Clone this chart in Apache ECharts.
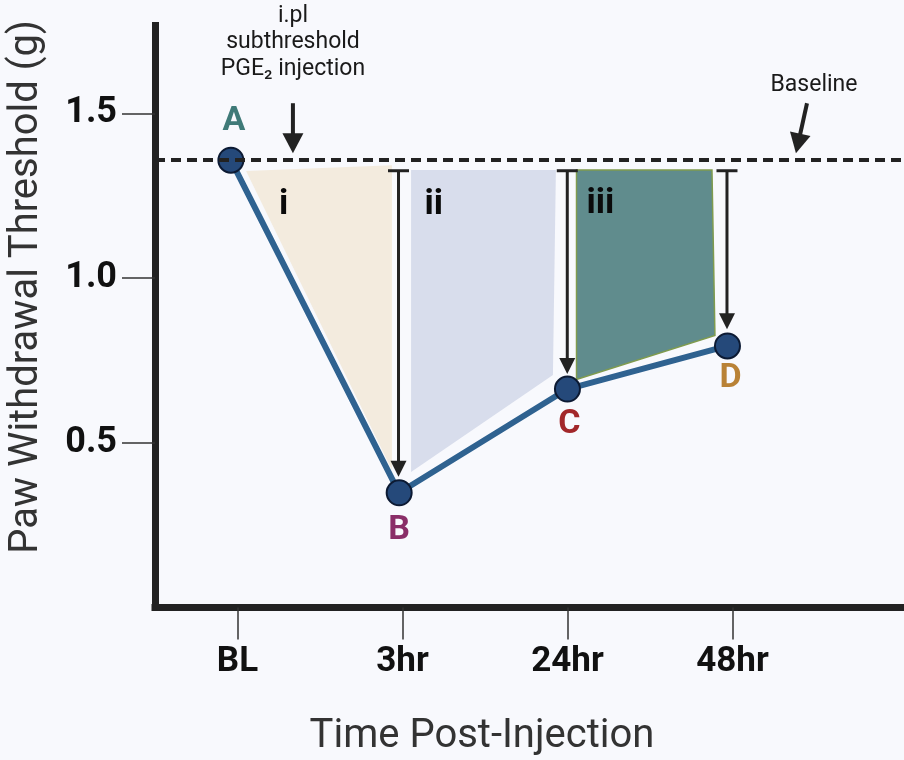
<!DOCTYPE html>
<html><head><meta charset="utf-8">
<script src="https://cdn.jsdelivr.net/npm/echarts@6/dist/echarts.min.js"></script>
<style>html,body{margin:0;padding:0;background:#f8f9fd}#c{width:904px;height:760px}</style>
</head><body><div id="c"></div>
<script>
// ---- data ----
const categories = ['BL', '3hr', '24hr', '48hr'];
const tickPositions = [0, 1, 2, 3];
const yTickValues = [0.5, 1.0, 1.5];
const pointX = [-0.04, 0.98, 2.0, 2.97];
const threshold = [1.358, 0.348, 0.663, 0.794];
const pointLabels = ['A', 'B', 'C', 'D'];
const baseline = 1.358;
const regionNames = ['i', 'ii', 'iii'];
const regionI = [[0.052, 1.325], [0.936, 1.343], [0.936, 0.417]];
const regionII = [[1.052, 1.328], [1.930, 1.328], [1.912, 0.706], [1.052, 0.411]];
const regionIII = [[2.055, 1.328], [2.876, 1.328], [2.894, 0.826], [2.055, 0.692]];
const regionLabelX = [0.28, 1.19, 2.2];
const regionLabelY = [1.22, 1.22, 1.225];
const dropArrowX = [0.976, 1.999, 2.967];
const dropArrowTop = 1.326;
const dropArrowTip = [0.397, 0.709, 0.845];
const noteArrowFrom = [[0.336, 1.531], [3.452, 1.531]];
const noteArrowTo = [[0.336, 1.379], [3.385, 1.379]];
const noteText = 'i.pl\nsubthreshold\nPGE\u2082 injection';
const baselineText = 'Baseline';
const yTitle = 'Paw Withdrawal Threshold (g)';
const xTitle = 'Time Post-Injection';

// ---- styles ----
const regions = [regionI, regionII, regionIII];
const regionFill = ['#f3ebde', '#d8ddec', '#608c8d'];
const regionStroke = [null, null, '#7f9b4e'];
const labelColors = ['#3f7a78', '#8a2e68', '#a2272a', '#b98236'];
const labelOffsets = [[3, -39], [0, 38], [2, 35], [3, 33]];
const FONT = 'Roboto, "Noto Sans", sans-serif';

function arrowShape(p1, p2, headLen, headW, shaftW, color) {
  const dx = p2[0] - p1[0], dy = p2[1] - p1[1];
  const L = Math.sqrt(dx * dx + dy * dy) || 1;
  const ux = dx / L, uy = dy / L, px = -uy, py = ux;
  const bx = p2[0] - ux * headLen, by = p2[1] - uy * headLen;
  return [
    { type: 'line', shape: { x1: p1[0], y1: p1[1], x2: bx + ux * 2, y2: by + uy * 2 },
      style: { stroke: color, lineWidth: shaftW } },
    { type: 'polygon', shape: { points: [[p2[0], p2[1]], [bx + px * headW / 2, by + py * headW / 2], [bx - px * headW / 2, by - py * headW / 2]] },
      style: { fill: color } }
  ];
}

const chart = echarts.init(document.getElementById('c'), null, { renderer: 'canvas' });
chart.setOption({
  backgroundColor: '#f8f9fd',
  animation: false,
  textStyle: { fontFamily: FONT },
  grid: { left: 155, right: 0, top: 25.5, bottom: 152.6 },
  xAxis: {
    type: 'value', min: -0.5, max: 4.04,
    splitLine: { show: false },
    axisLine: { onZero: false, lineStyle: { color: '#222', width: 7, cap: 'square' } },
    axisTick: { show: true, customValues: tickPositions, length: 32, lineStyle: { color: '#333', width: 1.5 } },
    axisLabel: { customValues: tickPositions, formatter: v => categories[Math.round(v)],
      margin: 37, fontSize: 35, fontWeight: 'bold', color: '#111', fontFamily: FONT }
  },
  yAxis: {
    type: 'value', min: 0, max: 1.767,
    splitLine: { show: false },
    axisLine: { show: true, onZero: false, lineStyle: { color: '#222', width: 7, cap: 'square' } },
    axisTick: { show: true, customValues: yTickValues, length: 33, lineStyle: { color: '#333', width: 1.5 } },
    axisLabel: { customValues: yTickValues, formatter: v => v.toFixed(1),
      margin: 38, fontSize: 36, fontWeight: 'bold', color: '#111', fontFamily: FONT }
  },
  graphic: [
    { type: 'text', x: 27, y: 287, rotation: Math.PI / 2,
      style: { text: yTitle, font: '40px ' + FONT, fill: '#333', align: 'center', verticalAlign: 'middle' } },
    { type: 'text', x: 482, y: 737,
      style: { text: xTitle, font: '40px ' + FONT, fill: '#333', align: 'center', verticalAlign: 'middle' } },
    { type: 'text', x: 293, y: 42.5,
      style: { text: noteText, font: '23px ' + FONT, fill: '#1a1a1a', align: 'center', verticalAlign: 'middle', lineHeight: 26.5 } },
    { type: 'text', x: 814, y: 85,
      style: { text: baselineText, font: '23px ' + FONT, fill: '#1a1a1a', align: 'center', verticalAlign: 'middle' } }
  ],
  series: [
    {
      name: 'regions', type: 'custom', z: 1, silent: true,
      data: regions.map((r, i) => [r[0][0], r[0][1], i]),
      renderItem: (params, api) => {
        const i = params.dataIndex;
        const pts = regions[i].map(p => api.coord(p));
        return { type: 'polygon', shape: { points: pts },
          style: { fill: regionFill[i], stroke: regionStroke[i] || null, lineWidth: regionStroke[i] ? 1.5 : 0 } };
      }
    },
    {
      name: 'regionLabels', type: 'scatter', z: 2, silent: true, symbolSize: 0,
      itemStyle: { opacity: 1 },
      data: regionLabelX.map((x, i) => [x, regionLabelY[i]]),
      label: { show: true, position: 'inside', formatter: p => regionNames[p.dataIndex],
        fontSize: 35, fontWeight: 'bold', color: '#0a0a0a', opacity: 1, textBorderWidth: 0, fontFamily: FONT }
    },
    {
      name: 'dropArrows', type: 'custom', z: 3, silent: true,
      data: dropArrowX.map((x, i) => [x, dropArrowTop, dropArrowTip[i]]),
      renderItem: (params, api) => {
        const top = api.coord([api.value(0), api.value(1)]);
        const tip = api.coord([api.value(0), api.value(2)]);
        const kids = arrowShape(top, tip, 16, 16, 3, '#222');
        kids.push({ type: 'line', shape: { x1: top[0] - 10.5, y1: top[1], x2: top[0] + 10.5, y2: top[1] },
          style: { stroke: '#222', lineWidth: 3 } });
        return { type: 'group', children: kids };
      }
    },
    {
      name: 'noteArrows', type: 'custom', z: 3, silent: true,
      data: noteArrowFrom.map((p, i) => [p[0], p[1], noteArrowTo[i][0], noteArrowTo[i][1]]),
      renderItem: (params, api) => {
        const a = api.coord([api.value(0), api.value(1)]);
        const b = api.coord([api.value(2), api.value(3)]);
        return { type: 'group', children: arrowShape(a, b, 20, 21, 4, '#222') };
      }
    },
    {
      name: 'threshold', type: 'line', z: 4,
      data: pointX.map((x, i) => ({ value: [x, threshold[i]],
        label: { offset: labelOffsets[i], color: labelColors[i] } })),
      symbol: 'circle', symbolSize: 25,
      lineStyle: { color: '#2f6290', width: 6 },
      itemStyle: { color: '#25497a', borderColor: '#0c1a33', borderWidth: 2 },
      label: { show: true, position: 'inside', formatter: p => pointLabels[p.dataIndex],
        fontSize: 34, fontWeight: 'bold', textBorderWidth: 0, fontFamily: FONT },
      emphasis: { disabled: true },
      markLine: {
        silent: true, symbol: ['none', 'none'], label: { show: false },
        lineStyle: { color: '#222', width: 4, type: [10, 6] },
        data: [{ yAxis: baseline }]
      }
    }
  ]
});
</script>
</body></html>
